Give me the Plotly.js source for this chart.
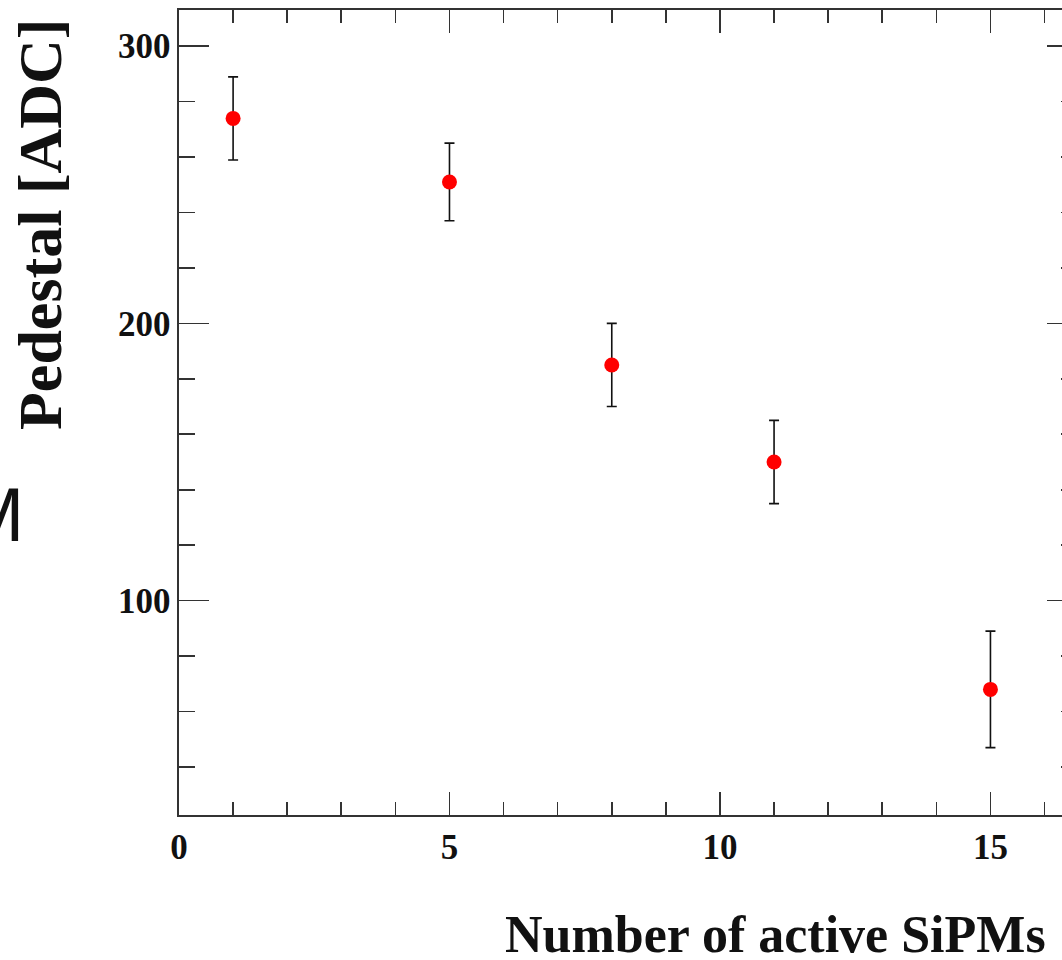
<!DOCTYPE html>
<html>
<head>
<meta charset="utf-8">
<script src="https://cdn.plot.ly/plotly-3.0.1.min.js"></script>
<style>
html, body { margin:0; padding:0; overflow:hidden; background:#fff; }
#chart { width:1100px; height:1000px; }
</style>
</head>
<body>
<div id="chart"></div>
<script>
// Data
const activeSiPMs = [1, 5, 8, 11, 15];
const pedestalADC = [273.9, 251.0, 185.0, 150.0, 68.0];
const pedestalErr = [15, 14, 15, 15, 21];

const xTitle = 'Number of active SiPMs';
const yTitle = 'Pedestal [ADC]';
const sideText = 'M';

const serif = 'Liberation Serif, Times New Roman, serif';

const trace = {
  x: activeSiPMs,
  y: pedestalADC,
  type: 'scatter',
  mode: 'markers',
  marker: { color: '#ff0000', size: 15 },
  error_y: { type: 'data', array: pedestalErr, visible: true, color: '#111', thickness: 1.6, width: 5 },
  hoverinfo: 'none'
};

// pixel helpers for annotation placement (plot area 179..1077 x 10..815)
const L = 179, T = 10, B = 815, PW = 898, PH = 805;
const px = v => (v - L) / PW;
const py = v => (B - v) / PH;

const axisCommon = {
  showline: true, linecolor: '#333', linewidth: 1.6, mirror: 'allticks',
  ticks: 'inside', tickcolor: '#333', tickwidth: 1.6,
  showgrid: false, zeroline: false,
  tickfont: { family: serif, size: 35, color: '#111', weight: 'bold' }
};

const layout = {
  width: 1100, height: 1000,
  margin: { l: 179, t: 10, r: 1100 - 179 - 898, b: 1000 - 815, autoexpand: false },
  paper_bgcolor: '#fff', plot_bgcolor: '#fff',
  showlegend: false,
  xaxis: Object.assign({}, axisCommon, {
    range: [0, 16.6], tickvals: [0, 5, 10, 15], ticklen: 23, ticklabelstandoff: 0,
    minor: { dtick: 1, tick0: 0, ticks: 'inside', ticklen: 13, tickcolor: '#333', tickwidth: 1.6 }
  }),
  yaxis: Object.assign({}, axisCommon, {
    range: [22.7, 313.0], tickvals: [100, 200, 300], ticklen: 30, ticklabelstandoff: 0,
    minor: { dtick: 20, tick0: 0, ticks: 'inside', ticklen: 16, tickcolor: '#333', tickwidth: 1.6 }
  }),
  annotations: [
    { text: yTitle, textangle: -90, xref: 'paper', yref: 'paper',
      x: px(40), y: py(224), xanchor: 'center', yanchor: 'middle', showarrow: false,
      font: { family: serif, size: 62, color: '#111', weight: 'bold' } },
    { text: xTitle, xref: 'paper', yref: 'paper',
      x: px(503), y: py(934), xanchor: 'left', yanchor: 'middle', showarrow: false,
      font: { family: serif, size: 52, color: '#111', weight: 'bold' } },
    { text: sideText, xref: 'paper', yref: 'paper',
      x: px(26), y: py(514), xanchor: 'right', yanchor: 'middle', showarrow: false,
      font: { family: 'Liberation Sans, Arial, sans-serif', size: 76, color: '#111' } }
  ]
};

Plotly.newPlot('chart', [trace], layout, { staticPlot: true, displayModeBar: false });
</script>
</body>
</html>
